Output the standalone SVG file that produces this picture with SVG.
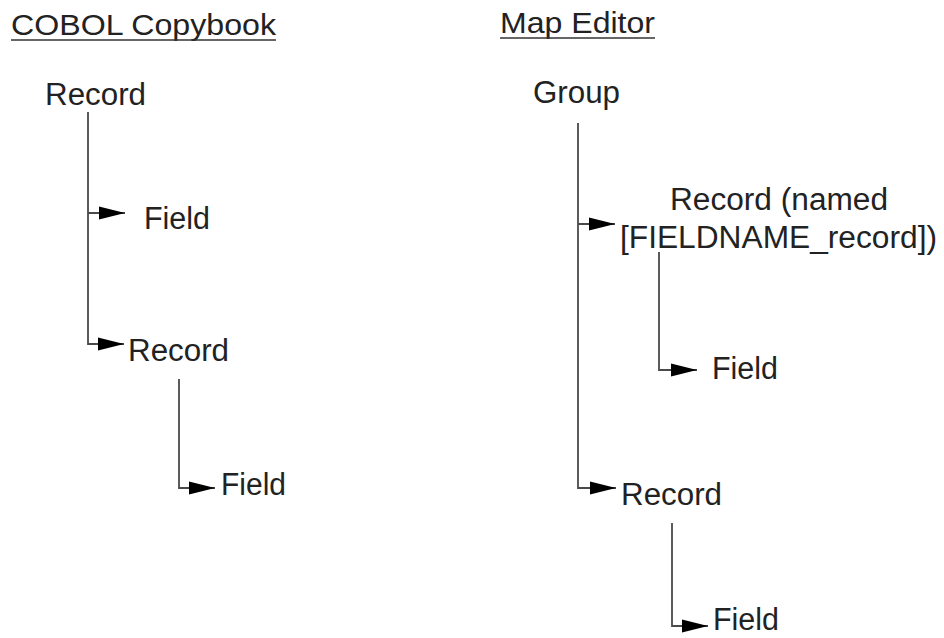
<svg xmlns="http://www.w3.org/2000/svg" width="944" height="638" viewBox="0 0 944 638">
<style>
text{font-family:"Liberation Sans",Arial,sans-serif;font-size:31px;fill:#222}
.t{font-size:30px}
.ln{fill:none;stroke:#4a4a4a;stroke-width:1.8}
.ul{stroke:#333;stroke-width:1.6}
</style>
<defs>
<marker id="ah" markerUnits="userSpaceOnUse" markerWidth="28" markerHeight="14" refX="26" refY="7" orient="auto">
<path d="M0,0.5 L26,7 L0,13.5 z" fill="#000"/>
</marker>
</defs>
<rect width="944" height="638" fill="#fff"/>
<g id="title-cobol">
<text class="t" x="11" y="35" textLength="265" lengthAdjust="spacingAndGlyphs">COBOL Copybook</text>
<line class="ul" x1="11" y1="40" x2="276" y2="40"/>
</g>
<g id="title-map">
<text class="t" x="500" y="33" textLength="155" lengthAdjust="spacingAndGlyphs">Map Editor</text>
<line class="ul" x1="500" y1="38" x2="655" y2="38"/>
</g>
<g id="connectors">
<path class="ln" d="M88,112 V344 H124" marker-end="url(#ah)"/>
<path class="ln" d="M88,213 H125" marker-end="url(#ah)"/>
<path class="ln" d="M179,379 V488 H215" marker-end="url(#ah)"/>
<path class="ln" d="M578,123 V488 H616" marker-end="url(#ah)"/>
<path class="ln" d="M578,224 H615" marker-end="url(#ah)"/>
<path class="ln" d="M659,252 V370 H697" marker-end="url(#ah)"/>
<path class="ln" d="M672,523 V626 H708" marker-end="url(#ah)"/>
</g>
<g id="l-record"><text x="45" y="105" textLength="101" lengthAdjust="spacingAndGlyphs">Record</text></g>
<g id="l-field1"><text x="144" y="229" textLength="66" lengthAdjust="spacingAndGlyphs">Field</text></g>
<g id="l-record2"><text x="128" y="361" textLength="101" lengthAdjust="spacingAndGlyphs">Record</text></g>
<g id="l-field2"><text x="221" y="495" textLength="65" lengthAdjust="spacingAndGlyphs">Field</text></g>
<g id="r-group"><text x="533" y="103" textLength="87" lengthAdjust="spacingAndGlyphs">Group</text></g>
<g id="r-record-named">
<text x="670" y="210" textLength="218" lengthAdjust="spacingAndGlyphs">Record (named</text>
<text x="620" y="248" textLength="317" lengthAdjust="spacingAndGlyphs">[FIELDNAME_record])</text>
</g>
<g id="r-field1"><text x="712" y="379" textLength="66" lengthAdjust="spacingAndGlyphs">Field</text></g>
<g id="r-record2"><text x="621" y="505" textLength="101" lengthAdjust="spacingAndGlyphs">Record</text></g>
<g id="r-field2"><text x="713" y="630" textLength="66" lengthAdjust="spacingAndGlyphs">Field</text></g>
</svg>
